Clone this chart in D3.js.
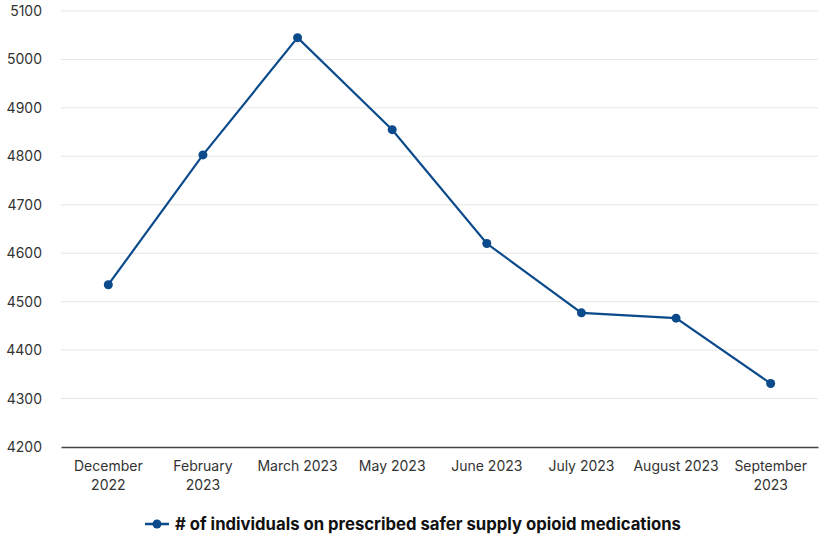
<!DOCTYPE html>
<html>
<head>
<meta charset="utf-8">
<script src="https://cdn.jsdelivr.net/npm/d3@7"></script>
<style>
  body { margin: 0; background: #fff; }
  text { font-family: Inter, "Noto Sans", sans-serif; }
</style>
</head>
<body>
<div id="chart"></div>
<script>
// data
var months = [["December", "2022"], ["February", "2023"], ["March 2023"], ["May 2023"],
              ["June 2023"], ["July 2023"], ["August 2023"], ["September", "2023"]];
var counts = [4535, 4803, 5045, 4855, 4620, 4477, 4466, 4331];
var yTicks = [4200, 4300, 4400, 4500, 4600, 4700, 4800, 4900, 5000, 5100];
var seriesName = "# of individuals on prescribed safer supply opioid medications";

var W = 820, H = 552;
var margin = {top: 11, right: 2, bottom: 105, left: 61};
var width = W - margin.left - margin.right,
    height = H - margin.top - margin.bottom;
var color = "#0b4a8b";

var svg = d3.select("#chart").append("svg")
    .attr("width", W).attr("height", H);
var g = svg.append("g")
    .attr("transform", "translate(" + margin.left + "," + margin.top + ")");

var x = d3.scaleBand().domain(d3.range(months.length)).range([0, width]);
var y = d3.scaleLinear().domain([4200, 5100]).range([height, 0]);

// gridlines
g.append("g").selectAll("line")
  .data(yTicks.slice(1))
  .enter().append("line")
    .attr("x1", 0).attr("x2", width)
    .attr("y1", function(d) { return y(d); })
    .attr("y2", function(d) { return y(d); })
    .attr("stroke", "#e6e6e6").attr("stroke-width", 1);

// y axis labels
var yAxis = g.append("g")
    .call(d3.axisLeft(y).tickValues(yTicks).tickFormat(d3.format("d")).tickSize(0).tickPadding(19));
yAxis.select(".domain").remove();
yAxis.selectAll("text")
    .attr("font-size", 14).attr("fill", "#333")
    .style("font-family", "Inter, sans-serif");

// x axis
var xAxis = g.append("g")
    .attr("transform", "translate(0," + height + ")")
    .call(d3.axisBottom(x).tickSize(0).tickFormat(""));
xAxis.select(".domain").attr("stroke", "#444").attr("stroke-width", 1.5);
xAxis.selectAll(".tick").each(function(d) {
  var t = d3.select(this).append("text")
      .attr("fill", "#333").attr("font-size", 14)
      .attr("text-anchor", "middle").attr("y", 24);
  months[d].forEach(function(s, i) {
    t.append("tspan").attr("x", 0).attr("dy", i ? 19 : 0).text(s);
  });
});

// line
var line = d3.line()
    .x(function(d, i) { return x(i) + x.bandwidth() / 2; })
    .y(function(d) { return y(d); });

g.append("path")
    .datum(counts)
    .attr("fill", "none")
    .attr("stroke", color)
    .attr("stroke-width", 2.2)
    .attr("d", line);

g.append("g").selectAll("circle")
  .data(counts)
  .enter().append("circle")
    .attr("cx", function(d, i) { return x(i) + x.bandwidth() / 2; })
    .attr("cy", function(d) { return y(d); })
    .attr("r", 4.5)
    .attr("fill", color);

// legend
var leg = svg.append("g").attr("transform", "translate(145,524)");
leg.append("line").attr("x1", 0).attr("x2", 24)
    .attr("stroke", color).attr("stroke-width", 2.5);
leg.append("circle").attr("cx", 12).attr("r", 4.5).attr("fill", color);
leg.append("text").attr("x", 30).attr("dy", "0.35em")
    .attr("font-size", 16.7).attr("font-weight", "bold").attr("fill", "#111")
    .text(seriesName);
</script>
</body>
</html>
